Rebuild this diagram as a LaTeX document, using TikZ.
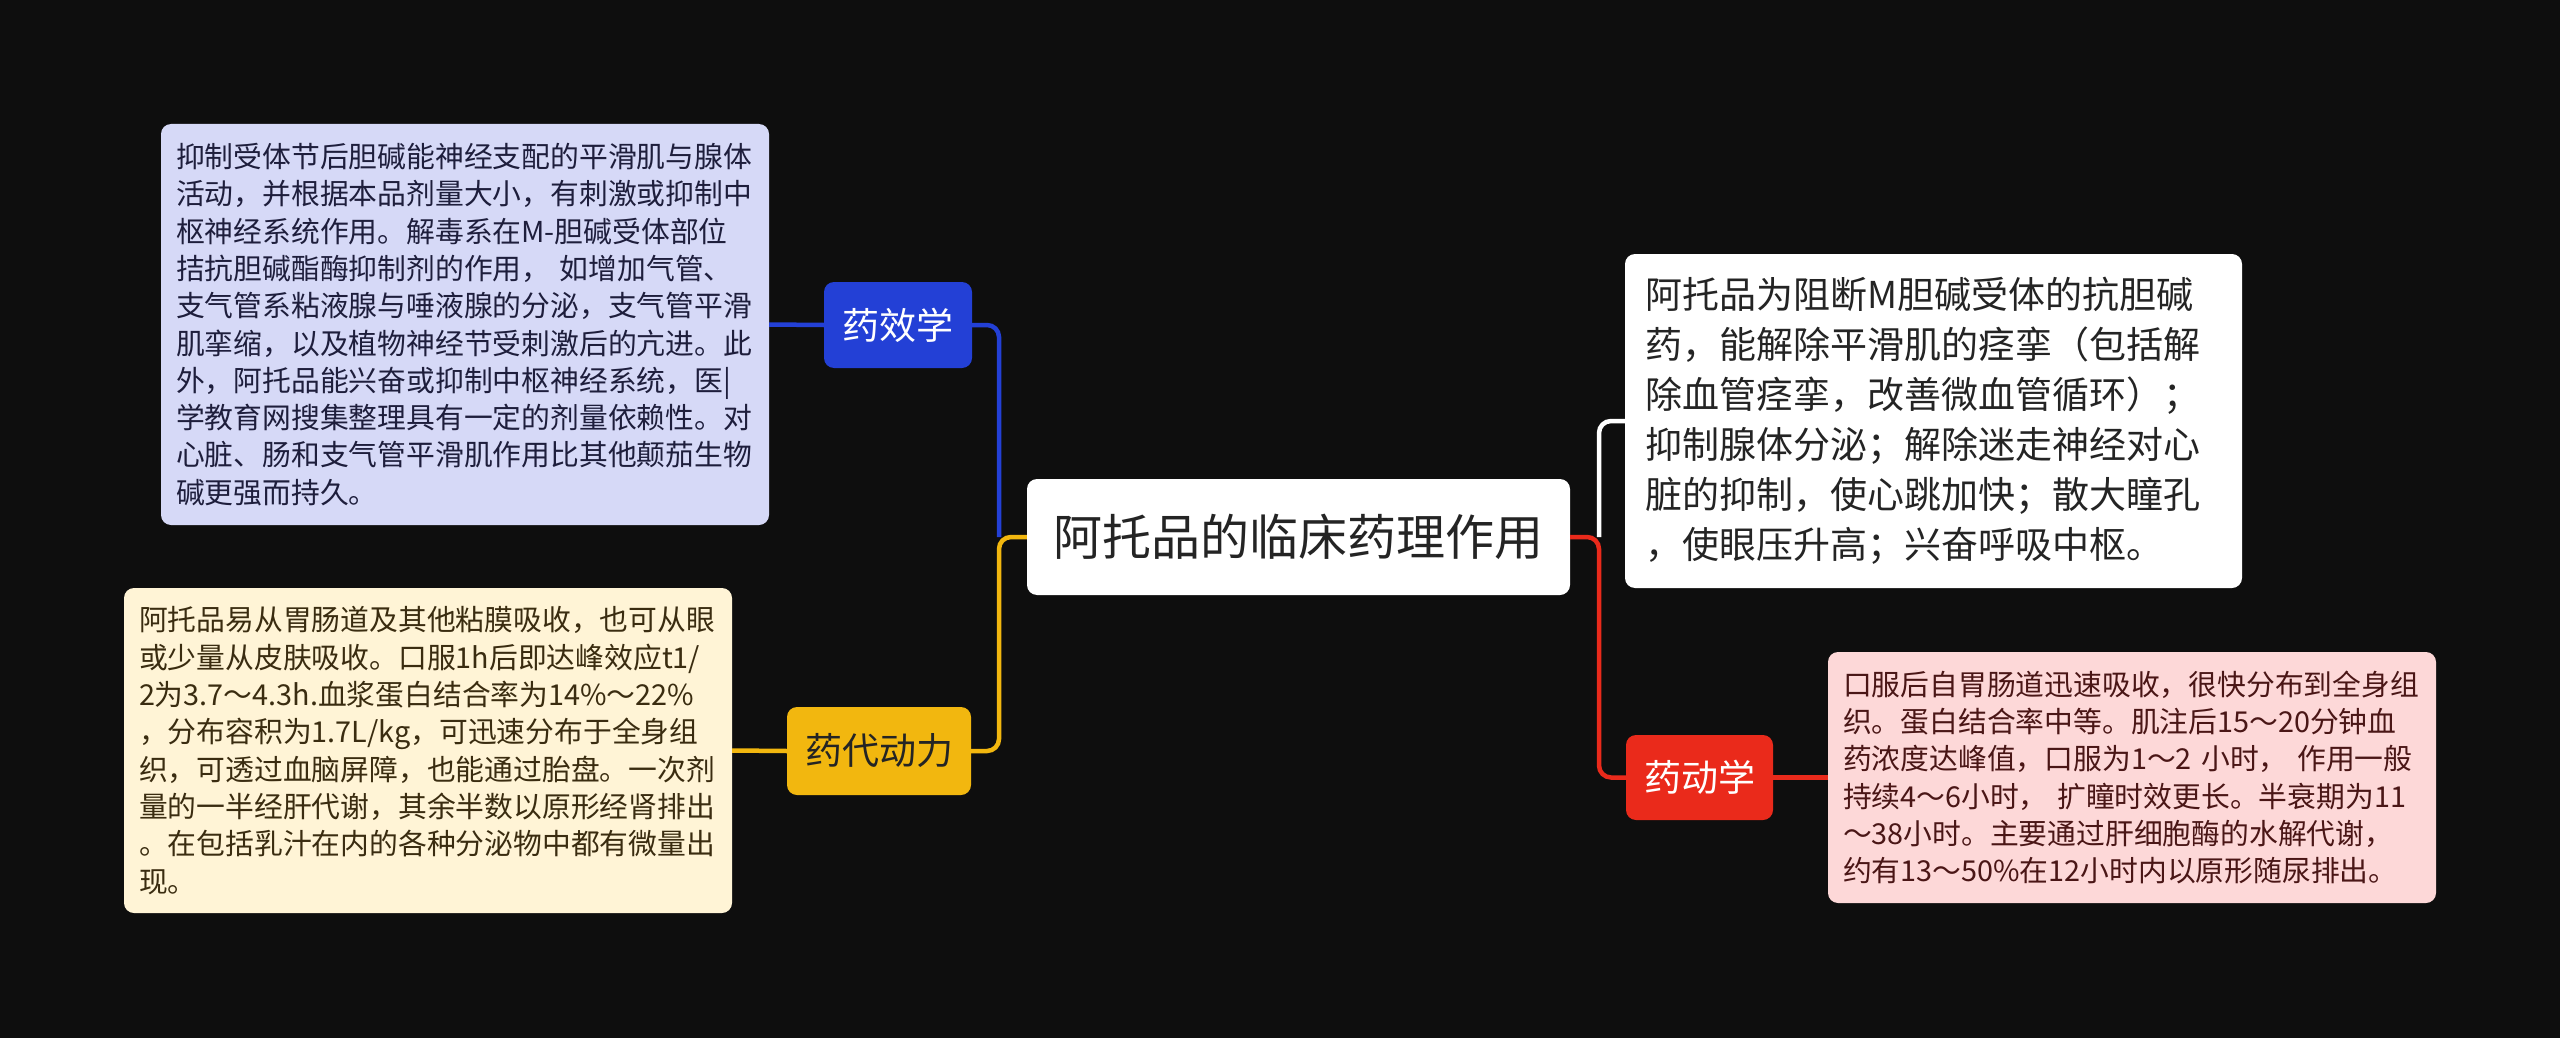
\documentclass[tikz,border=0pt]{standalone}
\usepackage{fontspec}
\newfontfamily\cjk{Noto Sans CJK SC}
\definecolor{bg}{HTML}{0E0E0E}
\definecolor{cblue}{HTML}{2340D6}
\definecolor{cyellow}{HTML}{F2B70F}
\definecolor{cred}{HTML}{EA2A1B}
\definecolor{fblue}{HTML}{D6D9F7}
\definecolor{fyellow}{HTML}{FFF4D6}
\definecolor{fpink}{HTML}{FDD8D8}
\definecolor{tblue}{HTML}{1E1E3C}
\definecolor{tyellow}{HTML}{3A2C10}
\definecolor{tpink}{HTML}{4A1616}
\definecolor{tdark}{HTML}{242424}
\tikzset{
  conn/.style={line width=4.5pt},
  txtbox/.style={rounded corners=10pt, inner ysep=0pt, align=left,
    font={\cjk\fontsize{28.8}{37.3}\selectfont}},
  topic/.style={rounded corners=10pt, inner sep=0pt, align=center,
    font={\cjk\fontsize{37}{44}\selectfont}},
}
\begin{document}
\begin{tikzpicture}[x=1pt,y=-1pt]
\fill[bg] (0,0) rectangle (2560,1038);
\useasboundingbox (0,0) rectangle (2560,1038);

% central
\node[rounded corners=10pt, fill=white, text=tdark, inner sep=0pt,
  minimum width=543pt, minimum height=116pt,
  font={\cjk\fontsize{49}{58}\selectfont}] (center) at (1298.5,537) {阿托品的临床药理作用};

% topics
\node[topic, fill=cblue, text=white, minimum width=148pt, minimum height=86pt] (yaoxiao) at (898,325) {药效学};
\node[topic, fill=cyellow, text=tdark, minimum width=184pt, minimum height=88pt] (yaodai) at (879,751) {药代动力};
\node[topic, fill=cred, text=white, minimum width=147pt, minimum height=85pt] (yaodong) at (1699.5,777.5) {药动学};

% text boxes
\node[txtbox, fill=fblue, text=tblue, text width=578pt, inner xsep=15pt, minimum height=401pt] (effbox) at (465,324.5) {%
抑制受体节后胆碱能神经支配的平滑肌与腺体\\
活动，并根据本品剂量大小，有刺激或抑制中\\
枢神经系统作用。解毒系在M-胆碱受体部位\\
拮抗胆碱酯酶抑制剂的作用， 如增加气管、\\
支气管系粘液腺与唾液腺的分泌，支气管平滑\\
肌挛缩，以及植物神经节受刺激后的亢进。此\\
外，阿托品能兴奋或抑制中枢神经系统，医|\\
学教育网搜集整理具有一定的剂量依赖性。对\\
心脏、肠和支气管平滑肌作用比其他颠茄生物\\
碱更强而持久。};

\node[txtbox, fill=fyellow, text=tyellow, text width=578pt, inner xsep=15pt, minimum height=325pt] (kinbox) at (428,750.5) {%
阿托品易从胃肠道及其他粘膜吸收，也可从眼\\
或少量从皮肤吸收。口服1h后即达峰效应t1/\\
2为3.7～4.3h.血浆蛋白结合率为14\%～22\%\\
，分布容积为1.7L/kg，可迅速分布于全身组\\
织，可透过血脑屏障，也能通过胎盘。一次剂\\
量的一半经肝代谢，其余半数以原形经肾排出\\
。在包括乳汁在内的各种分泌物中都有微量出\\
现。};

\node[rounded corners=10pt, fill=white, text=tdark, inner ysep=0pt, align=left,
  font={\cjk\fontsize{37}{50}\selectfont},
  text width=577pt, inner xsep=20pt, minimum height=334pt] (mainbox) at (1933.5,421) {%
阿托品为阻断M胆碱受体的抗胆碱\\
药，能解除平滑肌的痉挛（包括解\\
除血管痉挛，改善微血管循环）；\\
抑制腺体分泌；解除迷走神经对心\\
脏的抑制，使心跳加快；散大瞳孔\\
，使眼压升高；兴奋呼吸中枢。};

\node[txtbox, fill=fpink, text=tpink, text width=578pt, inner xsep=15pt, minimum height=251pt] (dynbox) at (2132,777.5) {%
口服后自胃肠道迅速吸收，很快分布到全身组\\
织。蛋白结合率中等。肌注后15～20分钟血\\
药浓度达峰值，口服为1～2 小时， 作用一般\\
持续4～6小时， 扩瞳时效更长。半衰期为11\\
～38小时。主要通过肝细胞酶的水解代谢，\\
约有13～50\%在12小时内以原形随尿排出。};

% connectors
\coordinate (jl) at (999,537);
\coordinate (jr) at (1599,537);
\draw[conn, cblue, rounded corners=12pt] (jl) |- (yaoxiao.east);
\draw[conn, cyellow, rounded corners=12pt] (yaodai.east) -| (jl) [sharp corners] -- (center.west);
\draw[conn, cblue] (yaoxiao.west) -- (effbox.east);
\draw[conn, cyellow] (yaodai.west) -- (kinbox.east);
\draw[conn, white, rounded corners=12pt] (jr) |- (mainbox.west);
\draw[conn, cred, rounded corners=12pt] (yaodong.west) -| (jr) [sharp corners] -- (center.east);
\draw[conn, cred] (yaodong.east) -- (dynbox.west);
\end{tikzpicture}
\end{document}
